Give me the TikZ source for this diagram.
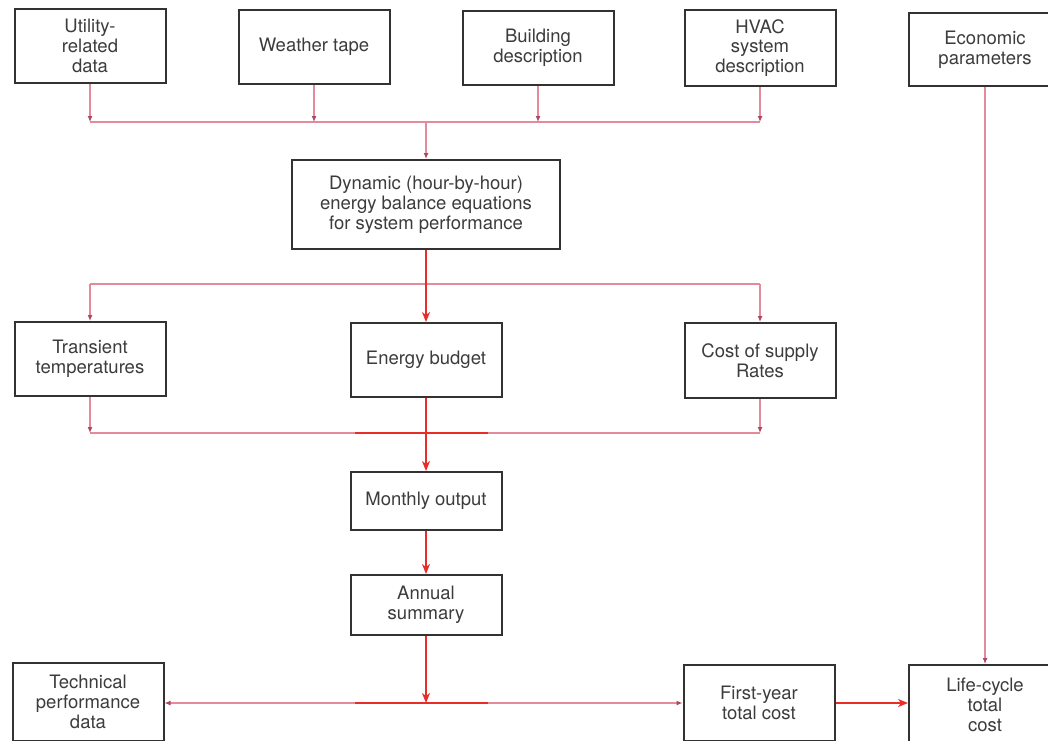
\documentclass[tikz,border=0pt]{standalone}
\usepackage{fontspec}
\setmainfont{TeX Gyre Heros}
\usetikzlibrary{arrows.meta}
\definecolor{pinkline}{RGB}{226,140,155}
\definecolor{pinktip}{RGB}{175,70,100}
\definecolor{redline}{RGB}{232,45,40}
\definecolor{boxline}{RGB}{50,50,50}
\definecolor{txt}{RGB}{60,60,60}
\tikzset{
  blk/.style={draw=boxline, line width=2pt, fill=white, text=txt, align=center,
    inner sep=0pt, minimum width=151pt, minimum height=74pt,
    font=\fontsize{18.5}{19.8}\selectfont},
  pl/.style={draw=pinkline, line width=1.6pt},
  rl/.style={draw=redline, line width=1.6pt},
  ptip/.style={-{Latex[length=6pt,width=5pt,color=pinktip]}},
  rtip/.style={-{Stealth[length=10pt,width=8pt,inset=3pt]}},
}
\begin{document}
\begin{tikzpicture}[x=1pt,y=-1pt]
\useasboundingbox (0,0) rectangle (1048,740);
\clip (0,0) rectangle (1048,740);
\fill[white] (0,0) rectangle (1048,740);
% top row
\node[blk] (util) at (90,46) {Utility-\\related\\data};
\node[blk] (weather) at (314,47) {Weather tape};
\node[blk] (build) at (538,47.5) {Building\\description};
\node[blk, minimum height=76pt] (hvac) at (760,48) {HVAC\\system\\description};
\node[blk, minimum width=152pt, minimum height=73pt] (econ) at (985,49.5) {Economic\\parameters};
% dynamic
\node[blk, minimum width=268pt, minimum height=89pt] (dyn) at (426,204.5) {Dynamic (hour-by-hour)\\energy balance equations\\for system performance};
% middle row
\node[blk] (trans) at (90,359) {Transient\\temperatures};
\node[blk] (energy) at (426,360) {Energy budget};
\node[blk, minimum height=75pt] (cost) at (760,360.5) {Cost of supply\\Rates};
\node[blk, minimum height=58pt] (monthly) at (426,501) {Monthly output};
\node[blk, minimum height=60pt] (annual) at (426,605) {Annual\\summary};
% bottom row
\node[blk, minimum height=78pt] (tech) at (88,702) {Technical\\performance\\data};
\node[blk, minimum height=76pt] (first) at (759,703) {First-year\\total cost};
\node[blk, minimum width=152pt, minimum height=80pt] (life) at (985,705) {Life-cycle\\total\\cost};
% top bus
\coordinate (topbus) at (426,122);
\draw[pl] (util.south |- topbus) -- (hvac.south |- topbus);
\draw[pl,ptip] (util) -- (util.south |- topbus);
\draw[pl,ptip] (weather) -- (weather.south |- topbus);
\draw[pl,ptip] (build) -- (build.south |- topbus);
\draw[pl,ptip] (hvac) -- (hvac.south |- topbus);
\draw[pl,ptip] (topbus) -- (dyn);
% split
\coordinate (split) at (426,284);
\draw[pl] (trans.north |- split) -- (cost.north |- split);
\draw[pl,ptip] (trans.north |- split) -- (trans);
\draw[pl,ptip] (cost.north |- split) -- (cost);
\draw[rl,rtip] (dyn) -- (energy);
% lower bus
\coordinate (lowbus) at (426,433);
\draw[pl] (trans.south |- lowbus) -- (cost.south |- lowbus);
\draw[rl] ([xshift=-71pt]lowbus) -- ([xshift=62pt]lowbus);
\draw[pl,ptip] (trans) -- (trans.south |- lowbus);
\draw[pl,ptip] (cost) -- (cost.south |- lowbus);
\draw[rl,rtip] (energy) -- (monthly);
\draw[rl,rtip] (monthly) -- (annual);
% bottom bus
\coordinate (botbus) at (426,703);
\draw[pl,ptip] (botbus) -- (tech.east |- botbus);
\draw[pl,ptip] (botbus) -- (first.west |- botbus);
\draw[rl] ([xshift=-71pt]botbus) -- ([xshift=62pt]botbus);
\draw[rl,rtip] (annual) -- (botbus);
\draw[rl,rtip] (first.east |- botbus) -- (life.west |- botbus);
\draw[pl,ptip] (econ) -- (life);
\end{tikzpicture}
\end{document}
